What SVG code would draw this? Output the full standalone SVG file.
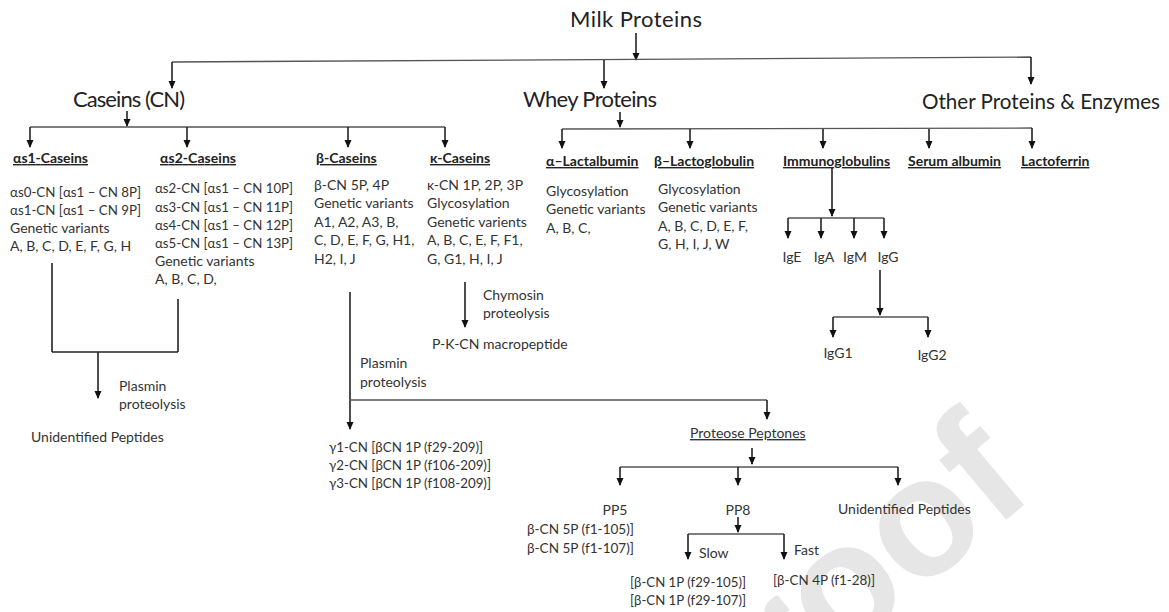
<svg xmlns="http://www.w3.org/2000/svg" width="1169" height="612" viewBox="0 0 1169 612">
<defs>
<marker id="ah" markerUnits="userSpaceOnUse" markerWidth="8" markerHeight="8" refX="7" refY="3.5" orient="auto">
<path d="M0,0 L8,3.5 L0,7 z" fill="#111"/>
</marker>
<style>
text{font-family:Lato,"Noto Sans","DejaVu Sans",sans-serif;fill:#333;font-size:14px}
.h{font-size:22px;fill:#222}
.lb{font-weight:bold;font-size:14px;text-decoration:underline;fill:#222}
.m{text-anchor:middle}
.wm{font-family:"Liberation Sans",Arial,sans-serif;font-weight:bold;font-size:168px;fill:#e6e6e6}
#connectors line{stroke:#222;stroke-width:1.6;fill:none}
#connectors line.a{marker-end:url(#ah)}
#connectors line.hz{stroke:#555;stroke-width:1.3}
</style>
</defs>
<rect width="1169" height="612" fill="#fff"/>
<text class="wm" transform="translate(1037,494) rotate(-40)" text-anchor="end">Journal Pre-proof</text>

<g id="connectors">
<line class="a" x1="636" y1="33" x2="636" y2="60"/>
<line class="hz" x1="172" y1="62" x2="1031" y2="57"/>
<line class="a" x1="172" y1="62" x2="172" y2="88"/>
<line class="a" x1="604" y1="60" x2="604" y2="88"/>
<line class="a" x1="1031" y1="57" x2="1031" y2="84"/>

<line class="a" x1="127" y1="111" x2="127" y2="126"/>
<line class="hz" x1="30" y1="127" x2="445" y2="127"/>
<line class="a" x1="30" y1="127" x2="30" y2="147"/>
<line class="a" x1="187" y1="127" x2="187" y2="147"/>
<line class="a" x1="348" y1="127" x2="348" y2="147"/>
<line class="a" x1="445" y1="127" x2="445" y2="147"/>

<line class="a" x1="620" y1="112" x2="620" y2="127"/>
<line class="hz" x1="562" y1="129" x2="1032" y2="128"/>
<line class="a" x1="562" y1="129" x2="562" y2="148"/>
<line class="a" x1="690" y1="129" x2="690" y2="148"/>
<line class="a" x1="823" y1="129" x2="823" y2="148"/>
<line class="a" x1="929" y1="129" x2="929" y2="148"/>
<line class="a" x1="1032" y1="128" x2="1032" y2="148"/>

<line class="a" x1="832" y1="168" x2="832" y2="216"/>
<line class="hz" x1="788" y1="218" x2="884" y2="218"/>
<line class="a" x1="788" y1="218" x2="788" y2="238"/>
<line class="a" x1="821" y1="218" x2="821" y2="238"/>
<line class="a" x1="854" y1="218" x2="854" y2="238"/>
<line class="a" x1="884" y1="218" x2="884" y2="238"/>

<line class="a" x1="880" y1="270" x2="880" y2="315"/>
<line class="hz" x1="833" y1="317" x2="928" y2="317"/>
<line class="a" x1="833" y1="317" x2="833" y2="337"/>
<line class="a" x1="928" y1="317" x2="928" y2="337"/>

<line class="a" x1="465" y1="282" x2="465" y2="327"/>

<line x1="52" y1="263" x2="52" y2="352"/>
<line x1="178" y1="299" x2="178" y2="352"/>
<line x1="52" y1="352" x2="178" y2="352"/>
<line class="a" x1="98" y1="352" x2="98" y2="398"/>

<line class="a" x1="350" y1="292" x2="350" y2="429"/>
<line class="hz" x1="350" y1="400" x2="767" y2="400"/>
<line class="a" x1="767" y1="400" x2="767" y2="419"/>

<line class="a" x1="752" y1="448" x2="752" y2="464"/>
<line class="hz" x1="620" y1="467" x2="898" y2="467"/>
<line class="a" x1="620" y1="467" x2="620" y2="485"/>
<line class="a" x1="738" y1="467" x2="738" y2="485"/>
<line class="a" x1="898" y1="467" x2="898" y2="485"/>

<line class="a" x1="738" y1="517" x2="738" y2="532"/>
<line class="hz" x1="688" y1="534" x2="784" y2="534"/>
<line class="a" x1="688" y1="534" x2="688" y2="559"/>
<line class="a" x1="784" y1="534" x2="784" y2="559"/>
</g>

<g id="milk-proteins"><text class="h" x="570" y="27" textLength="132">Milk Proteins</text></g>
<g id="caseins"><text class="h" x="73" y="107" textLength="112">Caseins (CN)</text></g>
<g id="whey-proteins"><text class="h" x="523" y="107" textLength="134">Whey Proteins</text></g>
<g id="other-proteins"><text class="h" x="922" y="109" textLength="238" lengthAdjust="spacingAndGlyphs">Other Proteins &amp; Enzymes</text></g>

<g id="as1-caseins">
<text class="lb" x="13" y="163" textLength="75">αs1-Caseins</text>
<text x="10" y="197" textLength="131" lengthAdjust="spacingAndGlyphs">αs0-CN [αs1 – CN 8P]</text>
<text x="10" y="215" textLength="131" lengthAdjust="spacingAndGlyphs">αs1-CN [αs1 – CN 9P]</text>
<text x="10" y="233">Genetic variants</text>
<text x="10" y="251">A, B, C, D, E, F, G, H</text>
</g>
<g id="as2-caseins">
<text class="lb" x="160" y="163" textLength="76">αs2-Caseins</text>
<text x="155" y="193" textLength="138" lengthAdjust="spacingAndGlyphs">αs2-CN [αs1 – CN 10P]</text>
<text x="155" y="212" textLength="138" lengthAdjust="spacingAndGlyphs">αs3-CN [αs1 – CN 11P]</text>
<text x="155" y="230" textLength="138" lengthAdjust="spacingAndGlyphs">αs4-CN [αs1 – CN 12P]</text>
<text x="155" y="248" textLength="138" lengthAdjust="spacingAndGlyphs">αs5-CN [αs1 – CN 13P]</text>
<text x="155" y="266">Genetic variants</text>
<text x="155" y="284">A, B, C, D,</text>
</g>
<g id="b-caseins">
<text class="lb" x="316" y="163">β-Caseins</text>
<text x="314" y="190">β-CN 5P, 4P</text>
<text x="314" y="208">Genetic variants</text>
<text x="314" y="227">A1, A2, A3, B,</text>
<text x="314" y="245">C, D, E, F, G, H1,</text>
<text x="314" y="264">H2, I, J</text>
</g>
<g id="k-caseins">
<text class="lb" x="430" y="163">κ-Caseins</text>
<text x="427" y="190">κ-CN 1P, 2P, 3P</text>
<text x="427" y="208">Glycosylation</text>
<text x="427" y="227">Genetic varients</text>
<text x="427" y="245">A, B, C, E, F, F1,</text>
<text x="427" y="264">G, G1, H, I, J</text>
</g>
<g id="a-lactalbumin">
<text class="lb" x="546" y="166">α–Lactalbumin</text>
<text x="546" y="196">Glycosylation</text>
<text x="546" y="214">Genetic variants</text>
<text x="546" y="233">A, B, C,</text>
</g>
<g id="b-lactoglobulin">
<text class="lb" x="654" y="166">β–Lactoglobulin</text>
<text x="658" y="194">Glycosylation</text>
<text x="658" y="212">Genetic variants</text>
<text x="658" y="231">A, B, C, D, E, F,</text>
<text x="658" y="249">G, H, I, J, W</text>
</g>
<g id="immunoglobulins"><text class="lb" x="783" y="166">Immunoglobulins</text></g>
<g id="serum-albumin"><text class="lb" x="908" y="166">Serum albumin</text></g>
<g id="lactoferrin"><text class="lb" x="1021" y="166">Lactoferrin</text></g>
<g id="ige"><text class="m" x="792" y="262">IgE</text></g>
<g id="iga"><text class="m" x="824" y="262">IgA</text></g>
<g id="igm"><text class="m" x="855" y="262">IgM</text></g>
<g id="igg"><text class="m" x="888" y="262">IgG</text></g>
<g id="igg1"><text class="m" x="838" y="358">IgG1</text></g>
<g id="igg2"><text class="m" x="932" y="360">IgG2</text></g>

<g id="chymosin">
<text x="483" y="300">Chymosin</text>
<text x="483" y="318">proteolysis</text>
</g>
<g id="pk-cn"><text x="432" y="349">P-K-CN macropeptide</text></g>

<g id="plasmin-1">
<text x="119" y="391">Plasmin</text>
<text x="119" y="409">proteolysis</text>
</g>
<g id="unidentified-1"><text x="31" y="442">Unidentified Peptides</text></g>

<g id="plasmin-2">
<text x="360" y="368">Plasmin</text>
<text x="360" y="387">proteolysis</text>
</g>
<g id="gamma-cn">
<text x="329" y="452" textLength="154" lengthAdjust="spacingAndGlyphs">γ1-CN [βCN 1P (f29-209)]</text>
<text x="329" y="470" textLength="162" lengthAdjust="spacingAndGlyphs">γ2-CN [βCN 1P (f106-209)]</text>
<text x="329" y="488" textLength="162" lengthAdjust="spacingAndGlyphs">γ3-CN [βCN 1P (f108-209)]</text>
</g>

<g id="proteose-peptones"><text x="690" y="438" style="text-decoration:underline">Proteose Peptones</text></g>
<g id="pp5">
<text class="m" x="615" y="515">PP5</text>
<text x="527" y="534" textLength="107" lengthAdjust="spacingAndGlyphs">β-CN 5P (f1-105)]</text>
<text x="527" y="553" textLength="107" lengthAdjust="spacingAndGlyphs">β-CN 5P (f1-107)]</text>
</g>
<g id="pp8"><text class="m" x="738" y="515">PP8</text></g>
<g id="unidentified-2"><text x="838" y="514">Unidentified Peptides</text></g>
<g id="slow">
<text x="699" y="558">Slow</text>
<text x="630" y="587" textLength="116" lengthAdjust="spacingAndGlyphs">[β-CN 1P (f29-105)]</text>
<text x="630" y="605" textLength="116" lengthAdjust="spacingAndGlyphs">[β-CN 1P (f29-107)]</text>
</g>
<g id="fast">
<text x="794" y="555">Fast</text>
<text x="773" y="585" textLength="102" lengthAdjust="spacingAndGlyphs">[β-CN 4P (f1-28)]</text>
</g>
</svg>
